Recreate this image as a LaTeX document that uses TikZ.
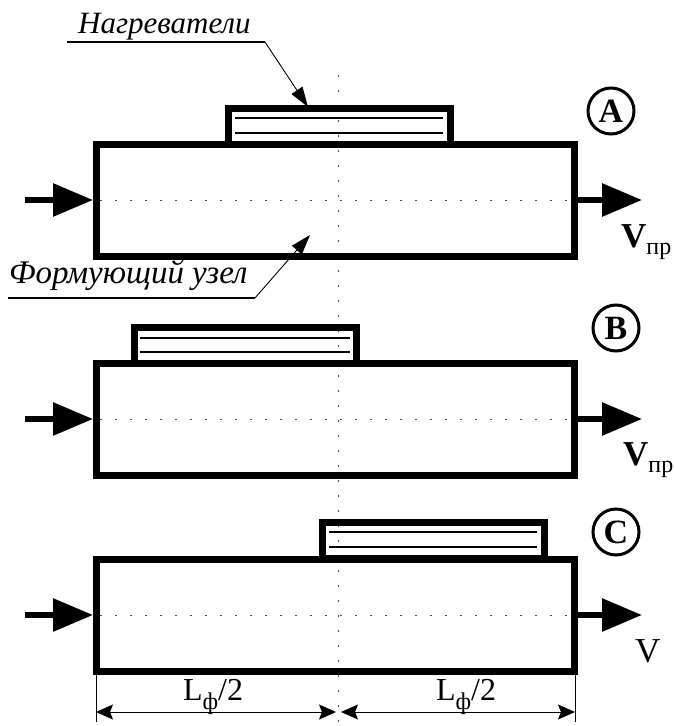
\documentclass[tikz,border=0pt]{standalone}
\usepackage{fontspec}
\setmainfont{Liberation Serif}
\usetikzlibrary{arrows.meta}
\begin{document}
\begin{tikzpicture}[x=1pt,y=-1pt,
  body/.style={draw, line width=7pt, minimum width=478pt, minimum height=112pt, inner sep=0pt},
  heater/.style={draw, line width=7pt, minimum width=222pt, minimum height=36pt, inner sep=0pt},
  hline/.style={line width=1.2pt},
  axis/.style={line width=1pt, dash pattern=on 2pt off 13pt, black!70},
  flow/.style={line width=6pt, -{Triangle[length=40pt,width=32pt]}},
  leader/.style={line width=0.9pt, -{Triangle[length=20pt,width=13pt]}},
  dim/.style={line width=0.9pt, {Stealth[length=17pt,width=15pt,inset=3pt]}-{Stealth[length=17pt,width=15pt,inset=3pt]}},
  ext/.style={line width=0.9pt},
  tag/.style={draw, circle, line width=3pt, minimum size=46pt, inner sep=0pt, font=\fontsize{34}{34}\selectfont\bfseries},
  lab/.style={font=\fontsize{31}{33}\selectfont\itshape, inner sep=0pt},
  vel/.style={font=\fontsize{35}{35}\selectfont, inner sep=0pt}
]
\useasboundingbox (0,0) rectangle (673,726);
% axes
\draw[axis] (338,75) -- (338,722);
\draw[axis] (100,200) -- (571,200);
\draw[axis] (100,419) -- (571,419);
\draw[axis] (100,615) -- (571,615);
% A
\node[heater] (hA) at (339.5,126.5) {};
\draw[hline] (235,118) -- (443,118);
\draw[hline] (235,133) -- (443,133);
\node[body] (A) at (335.5,200) {};
% B
\node[heater] (hB) at (245,345.5) {};
\draw[hline] (140,338) -- (350,338);
\draw[hline] (140,352) -- (350,352);
\node[body] (B) at (335.5,419) {};
% C
\node[heater] (hC) at (433,540.5) {};
\draw[hline] (329,532) -- (537,532);
\draw[hline] (329,547) -- (537,547);
\node[body] (C) at (335.5,615) {};
% flow arrows
\coordinate (inA) at (25,200);
\coordinate (outA) at (642,200);
\coordinate (inB) at (25,419);
\coordinate (outB) at (642,419);
\coordinate (inC) at (25,615);
\coordinate (outC) at (642,615);
\draw[flow] (inA) -- (A.west);
\draw[flow] (A.east) -- (outA);
\draw[flow] (inB) -- (B.west);
\draw[flow] (B.east) -- (outB);
\draw[flow] (inC) -- (C.west);
\draw[flow] (C.east) -- (outC);
% tags
\node[tag] (tA) at (611,111) {A};
\node[tag] (tB) at (616,328) {B};
\node[tag] (tC) at (616,532) {C};
% velocity labels
\node[vel, anchor=base west] (vA) at (621,247) {\textbf{V}\raisebox{-0.22em}{\fontsize{24}{24}\selectfont пр}};
\node[vel, anchor=base west] (vB) at (623,465) {\textbf{V}\raisebox{-0.22em}{\fontsize{24}{24}\selectfont пр}};
\node[vel, anchor=base west] (vC) at (635,662) {V};
% labels with leaders
\node[lab, anchor=base west] (nH) at (78,33) {Нагреватели};
\coordinate (uH1) at (67,42);
\coordinate (uH2) at (265,42);
\coordinate (tipH) at (308,107);
\draw[line width=1.2pt] (uH1) -- (uH2);
\draw[leader] (uH2) -- (tipH);
\node[lab, anchor=base west, font=\fontsize{33}{35}\selectfont\itshape] (nF) at (9,283) {Формующий узел};
\coordinate (uF1) at (8,298);
\coordinate (uF2) at (255,298);
\coordinate (tipF) at (310,235);
\draw[line width=1.2pt] (uF1) -- (uF2);
\draw[leader] (uF2) -- (tipF);
% dimensions
\coordinate (eL1) at (96,675);
\coordinate (eL2) at (96,722);
\coordinate (eR1) at (575,675);
\coordinate (eR2) at (575,722);
\coordinate (dL) at (96,712);
\coordinate (dM1) at (336,712);
\coordinate (dM2) at (341,712);
\coordinate (dR) at (575,712);
\draw[ext] (eL1) -- (eL2);
\draw[ext] (eR1) -- (eR2);
\draw[dim] (dL) -- (dM1);
\draw[dim] (dM2) -- (dR);
\node[vel, anchor=base, font=\fontsize{32}{32}\selectfont] (l1) at (213,700) {L\raisebox{-0.3em}{\fontsize{24}{24}\selectfont ф}/2};
\node[vel, anchor=base, font=\fontsize{32}{32}\selectfont] (l2) at (466,700) {L\raisebox{-0.3em}{\fontsize{24}{24}\selectfont ф}/2};
\end{tikzpicture}
\end{document}
